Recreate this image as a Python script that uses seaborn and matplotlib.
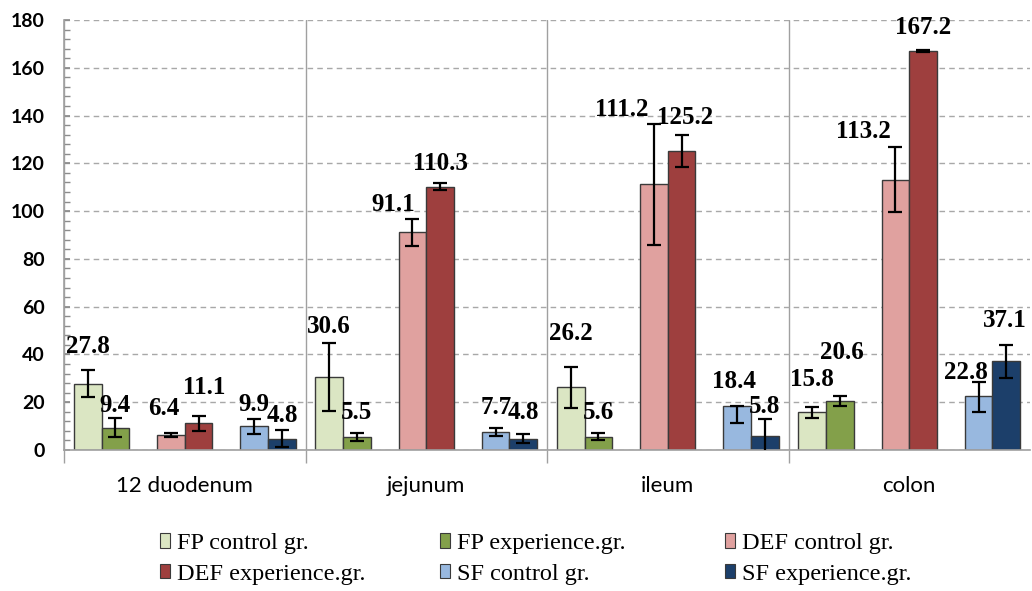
import matplotlib
matplotlib.use("Agg")
import matplotlib.pyplot as plt
from matplotlib.patches import Patch
from matplotlib.ticker import MultipleLocator, FixedLocator
import seaborn as sns
import pandas as pd

sections = ["12 duodenum", "jejunum", "ileum", "colon"]
series = ["FP control gr.", "FP experience.gr.", "DEF control gr.",
          "DEF experience.gr.", "SF control gr.", "SF experience.gr."]

fp_control = [27.8, 30.6, 26.2, 15.8]
fp_experience = [9.4, 5.5, 5.6, 20.6]
def_control = [6.4, 91.1, 111.2, 113.2]
def_experience = [11.1, 110.3, 125.2, 167.2]
sf_control = [9.9, 7.7, 18.4, 22.8]
sf_experience = [4.8, 4.8, 5.8, 37.1]

# error bars (down, up)
fp_control_err = [[5.6, 14.3, 8.7, 2.4], [5.6, 14.3, 8.7, 2.4]]
fp_experience_err = [[4.0, 1.6, 1.5, 2.1], [4.0, 1.6, 1.5, 2.1]]
def_control_err = [[0.8, 5.6, 25.3, 13.6], [0.8, 5.6, 25.3, 13.6]]
def_experience_err = [[3.0, 1.5, 6.8, 0.4], [3.0, 1.5, 6.8, 0.4]]
sf_control_err = [[3.0, 1.7, 7.0, 7.0], [3.0, 1.7, 0.0, 5.8]]
sf_experience_err = [[3.7, 1.9, 7.0, 7.0], [3.7, 1.9, 7.0, 7.0]]

values = [fp_control, fp_experience, def_control, def_experience, sf_control, sf_experience]
errors = [fp_control_err, fp_experience_err, def_control_err, def_experience_err,
          sf_control_err, sf_experience_err]

colors = ["#dbe6c3", "#83a04a", "#e0a19f", "#9e3f3e", "#98b8df", "#1c3f6a"]

# where the value labels sit: lift above the error bar (data units), sideways shift (px)
label_lift = [[10, 5.4, 10, 12, 6, 6],
              [7, 8.4, 6, 8, 8.6, 9],
              [13.7, 8.6, 6.2, 7, 10.4, 5.6],
              [11.3, 18.3, 6.4, 9.3, 4, 10]]
label_dx = [[0, 0, -7, 6, 0, 1],
            [0, 0, -19, 0, 1, 0],
            [0, 0, -32, 4, -3, 0],
            [0, 2, -32, 0, -13, -1]]

rows = []
for name, vals in zip(series, values):
    for sec, v in zip(sections, vals):
        rows.append({"section": sec, "series": name, "value": v})
df = pd.DataFrame(rows)

# two empty slots separate the pairs of bars
hue_order = [series[0], series[1], " ", series[2], series[3], "  ", series[4], series[5]]
palette = dict(zip(series, colors))
palette[" "] = "white"
palette["  "] = "white"

sns.set_theme(style="white")
plt.rcParams["font.family"] = ["Lato", "DejaVu Sans"]

fig = plt.figure(figsize=(10.32, 5.91), dpi=100)
ax = fig.add_axes([64 / 1032, 1 - 450 / 591, 966 / 1032, 430 / 591])

sns.barplot(data=df, x="section", y="value", hue="series", hue_order=hue_order,
            order=sections, palette=palette, width=0.9176, gap=0, legend=False,
            edgecolor="#3a3a3a", linewidth=1, saturation=1, ax=ax)

bars = [p for p in ax.patches if p.get_height() > 0]
by_group = {}
for b in bars:
    cx = b.get_x() + b.get_width() / 2
    by_group.setdefault(int(round(cx)), []).append(b)

for g in range(len(sections)):
    grp = sorted(by_group[g], key=lambda b: b.get_x())
    for s, b in enumerate(grp):
        cx = b.get_x() + b.get_width() / 2
        v = values[s][g]
        lo = errors[s][0][g]
        hi = errors[s][1][g]
        ax.errorbar(cx, v, yerr=[[lo], [hi]], fmt="none", ecolor="black",
                    elinewidth=1.6, capsize=5, capthick=1.6, zorder=5)
        ax.annotate(f"{v:.1f}", xy=(cx, v + hi + label_lift[g][s]),
                    xytext=(label_dx[g][s] * 0.72, 0), textcoords="offset points",
                    ha="center", va="center", fontsize=18, fontweight="bold",
                    family="Liberation Serif", color="black", zorder=6,
                    annotation_clip=False)

ax.set_ylim(0, 180)
ax.set_xlim(-0.5, 3.5)
ax.yaxis.set_major_locator(MultipleLocator(20))
ax.yaxis.set_minor_locator(MultipleLocator(4))
ax.xaxis.set_minor_locator(FixedLocator([-0.5, 0.5, 1.5, 2.5]))
ax.set_axisbelow(True)
ax.grid(axis="y", which="major", color="#a8a8a8", linestyle=(0, (4, 3)), linewidth=1)
ax.grid(axis="x", which="minor", color="#a0a0a0", linestyle="-", linewidth=1)
ax.grid(axis="x", which="major", visible=False)

ax.tick_params(axis="y", which="both", direction="in", length=4, color="#8c8c8c",
               left=True, labelsize=14, pad=14, labelcolor="black")
ax.tick_params(axis="x", which="major", length=0, labelsize=16, pad=19, labelcolor="black")
ax.tick_params(axis="x", which="minor", direction="out", length=9, color="#a0a0a0",
               bottom=True)
for lab in ax.get_yticklabels():
    lab.set_fontweight("bold")

ax.set_xlabel("")
ax.set_ylabel("")
for side in ["top", "right"]:
    ax.spines[side].set_visible(False)
for side in ["left", "bottom"]:
    ax.spines[side].set_color("#a0a0a0")
    ax.spines[side].set_linewidth(1.2)

handles = [Patch(facecolor=c, edgecolor="#3a3a3a", linewidth=0.8) for c in colors]
col_x = [160, 440, 725]
for k in range(3):
    idx = [k, k + 3]
    fig.legend([handles[i] for i in idx], [series[i] for i in idx],
               loc="upper left", bbox_to_anchor=(col_x[k] / 1032, 1 - 533 / 591),
               frameon=False, prop={"family": "Liberation Serif", "size": 17.5},
               handlelength=0.4, handleheight=0.55, handletextpad=0.3,
               labelspacing=0.4, borderpad=0, borderaxespad=0, labelcolor="black")

fig.savefig("out.png", dpi=100)
